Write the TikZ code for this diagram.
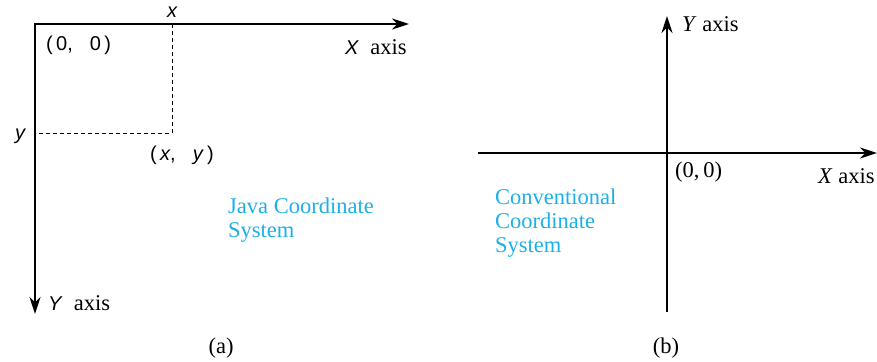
\documentclass[tikz,border=0pt]{standalone}
\usepackage{fontspec}
\setmainfont{Liberation Serif}
\setsansfont{Liberation Sans}
\usetikzlibrary{arrows.meta,positioning}
\definecolor{javacyan}{HTML}{1CB0E8}

\begin{document}
\begin{tikzpicture}[x=1pt, y=-1pt,
  every node/.style={inner sep=0pt, font=\fontsize{22.5}{24}\selectfont},
  axisline/.style={line width=2.3pt, {Stealth[length=17pt,width=11pt]}-{Stealth[length=17pt,width=11pt]}},
  axisend/.style={line width=2.3pt, -{Stealth[length=17pt,width=11pt]}},
  dashline/.style={line width=0.9pt, dash pattern=on 4pt off 3pt},
  sanslabel/.style={anchor=base west, font=\fontsize{20}{22}\selectfont\sffamily},
  serlabel/.style={anchor=base west},
  bluetext/.style={anchor=north west, align=left, text=javacyan}]
\useasboundingbox (0,0) rectangle (877,361);

% (a) Java coordinate system
\coordinate (jorig) at (35,24);
\coordinate (jxend) at (409,24);
\coordinate (jyend) at (35,314);
\coordinate (jpt) at (172,133);
\draw[axisline, line join=miter] (jyend) -- (jorig) -- (jxend);
\draw[dashline] (jorig -| jpt) -- (jpt) -- (jorig |- jpt);
\node[sanslabel, anchor=base] (jxlbl) at (172,18) {\itshape x};
\node[sanslabel, anchor=base] (jylbl) at (20,139) {\itshape y};
\node[sanslabel] (jorlbl) at (46,50) {(\,0,\hspace{0.85em}0\,)};
\node[sanslabel] (jptlbl) at (150,160) {(\,\textit{x},\hspace{0.85em}\textit{y}\,)};
\node[serlabel] (jxaxis) at (345,55) {\textsf{\itshape\fontsize{20}{22}\selectfont X}\hspace{0.5em}axis};
\node[serlabel] (jyaxis) at (48,310) {\textsf{\itshape\fontsize{20}{22}\selectfont Y}\hspace{0.5em}axis};
\node[bluetext] (jtext) at (228,198) {Java Coordinate\\System};
\node[anchor=base] (capa) at (221,353) {(a)};

% (b) Conventional coordinate system
\coordinate (corig) at (667,153);
\coordinate (cxbeg) at (478,153);
\coordinate (cxend) at (877,153);
\coordinate (cybeg) at (667,312);
\coordinate (cyend) at (667,16);
\draw[axisend] (cxbeg) -- (cxend);
\draw[axisend] (cybeg) -- (cyend);
\node[serlabel] (cyaxis) at (682,32) {\textit{Y} axis};
\node[serlabel] (corlbl) at (675,177) {(0,\,0)};
\node[serlabel] (cxaxis) at (818,183) {\textit{X} axis};
\node[bluetext] (ctext) at (495,189) {Conventional\\Coordinate\\System};
\node[anchor=base] (capb) at (666,353) {(b)};
\end{tikzpicture}
\end{document}
